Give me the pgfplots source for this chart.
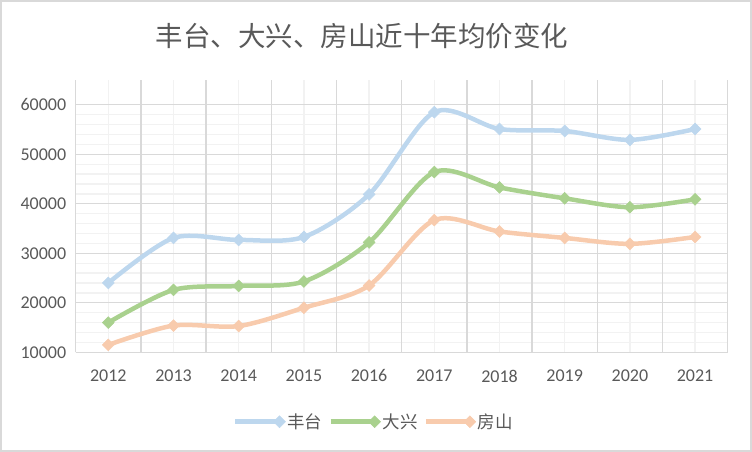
\documentclass[border=0pt]{standalone}
\usepackage{fontspec}
\setmainfont{Carlito}
\newfontfamily\cjk{Noto Sans CJK SC}
\usepackage{pgfplots}
\pgfplotsset{compat=1.18}

\definecolor{gridmaj}{HTML}{D9D9D9}
\definecolor{gridmin}{HTML}{F2F2F2}
\definecolor{txt}{HTML}{595959}
\definecolor{ftblue}{HTML}{BDD7EE}
\definecolor{dxgreen}{HTML}{A9D18E}
\definecolor{fsorange}{HTML}{F8CBAD}

\begin{document}
\begin{tikzpicture}
\useasboundingbox (0,0) rectangle (752bp,452bp);
\draw[gridmaj, line width=2bp] (1bp,1bp) rectangle (751bp,451bp);

\begin{axis}[
  at={(75.7bp,99.7bp)}, anchor=south west,
  scale only axis,
  width=652bp, height=272.3bp,
  xmin=-0.5, xmax=9.5,
  ymin=10000, ymax=65000,
  xtick={0,...,9},
  xticklabels={2012,2013,2014,2015,2016,2017,2018,2019,2020,2021},
  minor xtick={0,...,9},
  ytick={10000,20000,30000,40000,50000,60000},
  minor y tick num=4,
  extra x ticks={0.5,1.5,...,9.5},
  extra x tick labels={},
  extra x tick style={grid=major},
  xmajorgrids=false, xminorgrids, ymajorgrids, yminorgrids,
  major grid style={gridmaj, line width=1.3bp},
  minor grid style={gridmin, line width=1.3bp},
  axis x line*=bottom, axis y line*=left,
  axis line style={gridmaj, line width=1.3bp, -},
  major tick length=0pt, minor tick length=0pt,
  scaled y ticks=false,
  /pgf/number format/assume math mode=true,
  /pgf/number format/1000 sep={},
  tick label style={font=\fontsize{18bp}{20bp}\selectfont, text=txt},
  xticklabel style={yshift=-14bp},
  yticklabel style={xshift=-6bp},
  every axis plot/.append style={smooth, tension=0.5, line width=4.5bp,
    mark=square*, mark size=4.2bp,
    mark options={solid, line width=0.5bp, rotate=45}},
  legend columns=3,
  legend image code/.code={\draw[mark repeat=2, mark phase=2, #1] plot coordinates {(0bp,0bp) (44bp,0bp)};},
  legend style={at={(0.4575,-0.255)}, anchor=center, draw=none, fill=none,
    font=\cjk\fontsize{17.5bp}{20bp}\selectfont, text=txt,
    /tikz/every even column/.append style={column sep=4bp}},
]
\addplot[color=ftblue] coordinates {
  (0,24000)(1,33100)(2,32700)(3,33300)(4,41900)(5,58500)(6,55100)(7,54700)(8,52900)(9,55100)};
\addlegendentry{丰台}
\addplot[color=dxgreen] coordinates {
  (0,16000)(1,22600)(2,23400)(3,24300)(4,32200)(5,46400)(6,43300)(7,41100)(8,39300)(9,40900)};
\addlegendentry{大兴}
\addplot[color=fsorange] coordinates {
  (0,11500)(1,15400)(2,15300)(3,19000)(4,23500)(5,36700)(6,34400)(7,33100)(8,31900)(9,33300)};
\addlegendentry{房山}
\end{axis}

\node[text=txt, font=\cjk\fontsize{27.5bp}{30bp}\selectfont] at (362bp,416bp) {丰台、大兴、房山近十年均价变化};
\end{tikzpicture}
\end{document}
